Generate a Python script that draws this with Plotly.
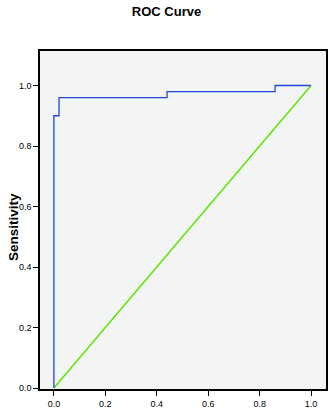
import plotly.graph_objects as go

# ROC step curve (1 - specificity, sensitivity)
fpr = [0.0, 0.0, 0.02, 0.02, 0.44, 0.44, 0.86, 0.86, 1.0]
tpr = [0.0, 0.90, 0.90, 0.96, 0.96, 0.98, 0.98, 1.0, 1.0]
# reference line
ref_x = [0.0, 1.0]
ref_y = [0.0, 1.0]
tick_vals = [0.0, 0.2, 0.4, 0.6, 0.8, 1.0]
tick_text = ["0.0", "0.2", "0.4", "0.6", "0.8", "1.0"]

fig = go.Figure()
fig.add_trace(go.Scatter(x=ref_x, y=ref_y, mode="lines",
                         line=dict(color="#5ee600", width=1.5), hoverinfo="skip"))
fig.add_trace(go.Scatter(x=fpr, y=tpr, mode="lines",
                         line=dict(color="#2244dd", width=1.3)))

axis_common = dict(showgrid=False, zeroline=False, showline=True, linecolor="black",
                   linewidth=1.5, mirror=True, ticks="outside", ticklen=5,
                   tickcolor="black", tickwidth=1, tickvals=tick_vals, ticktext=tick_text,
                   tickfont=dict(family="Liberation Sans, Arial", size=9, color="black"))

fig.update_layout(
    width=333, height=414,
    margin=dict(l=40, r=5, t=51, b=23),
    paper_bgcolor="white", plot_bgcolor="#f3f5f4",
    showlegend=False,
    title=dict(text="<b>ROC Curve</b>", x=0.5, xanchor="center", y=0.972, yanchor="middle",
               font=dict(family="Liberation Sans, Arial", size=13, color="black")),
    xaxis=dict(range=[-0.054, 1.058], **axis_common),
    yaxis=dict(range=[-0.003, 1.114], **axis_common),
)
fig.add_annotation(text="<b>Sensitivity</b>", xref="paper", yref="paper", x=-0.095, y=0.479,
                   xanchor="center", yanchor="middle", textangle=-90, showarrow=False,
                   font=dict(family="Liberation Sans, Arial", size=13.5, color="black"))
fig.write_html("out.html")
